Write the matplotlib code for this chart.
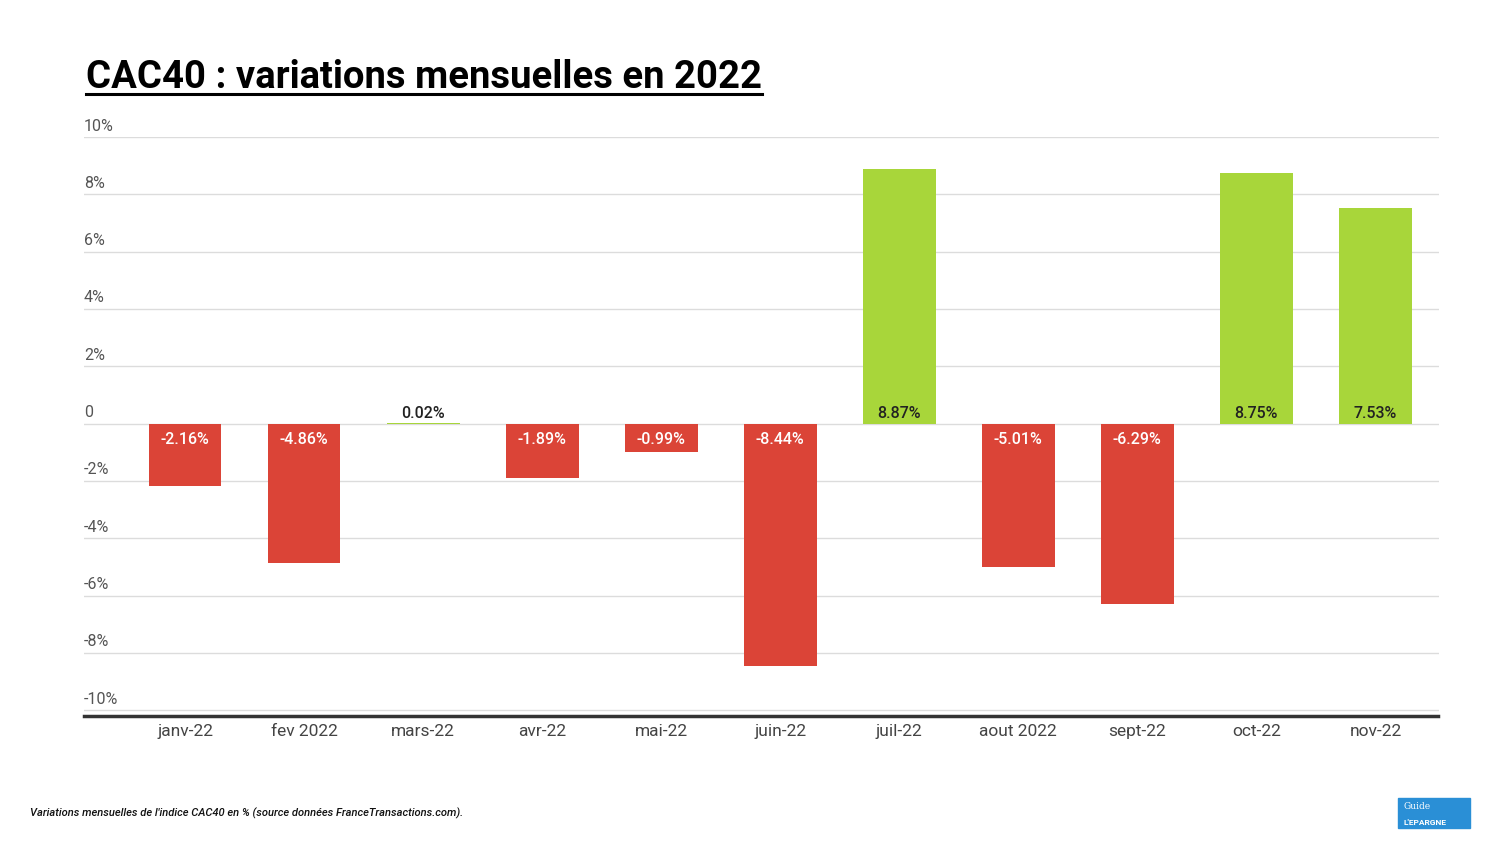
import matplotlib.pyplot as plt
import matplotlib.transforms as mtransforms
from matplotlib.patches import Rectangle
from matplotlib.lines import Line2D

plt.rcParams['font.family'] = ['Roboto', 'DejaVu Sans']

# données
months = ['janv-22', 'fev 2022', 'mars-22', 'avr-22', 'mai-22', 'juin-22',
          'juil-22', 'aout 2022', 'sept-22', 'oct-22', 'nov-22']
variations = [-2.16, -4.86, 0.02, -1.89, -0.99, -8.44, 8.87, -5.01, -6.29, 8.75, 7.53]
y_ticks = [10, 8, 6, 4, 2, 0, -2, -4, -6, -8, -10]
y_tick_labels = ['10%', '8%', '6%', '4%', '2%', '0', '-2%', '-4%', '-6%', '-8%', '-10%']

RED = '#db4437'
GREEN = '#a8d63a'

fig = plt.figure(figsize=(15, 8.44), dpi=100)
ax = fig.add_axes([0.056, 0.1517, 0.903, 0.686])

x = list(range(len(months)))
colors = [GREEN if v >= 0 else RED for v in variations]
ax.bar(x, variations, width=0.61, color=colors, zorder=3)

ax.set_xlim(-0.85, 10.53)
ax.set_ylim(-10.2, 10)

# grille
ax.set_yticks(y_ticks)
ax.yaxis.grid(True, color='#dcdcdc', linewidth=1, zorder=0)
ax.tick_params(axis='y', length=0, labelleft=False)
for sp in ['top', 'right', 'left']:
    ax.spines[sp].set_visible(False)
ax.spines['bottom'].set_color('#333333')
ax.spines['bottom'].set_linewidth(2.5)

# étiquettes de l'axe y au-dessus des lignes
trans = mtransforms.blended_transform_factory(ax.transAxes, ax.transData)
for val, lab in zip(y_ticks, y_tick_labels):
    ax.annotate(lab, xy=(0, val), xycoords=trans, xytext=(0, 2.5),
                textcoords='offset points', ha='left', va='bottom',
                fontsize=11.5, color='#555555')

ax.set_xticks(x)
ax.set_xticklabels(months, fontsize=12.5, color='#444444')
ax.tick_params(axis='x', length=0, pad=6)

# étiquettes des barres
for xi, v in zip(x, variations):
    lab = f'{v:.2f}%'
    if v < 0:
        ax.annotate(lab, xy=(xi, 0), xytext=(0, -6), textcoords='offset points',
                    ha='center', va='top', fontsize=11.5, fontweight='medium',
                    color='white', zorder=5)
    else:
        ax.annotate(lab, xy=(xi, 0), xytext=(0, 2), textcoords='offset points',
                    ha='center', va='bottom', fontsize=11.5, fontweight='medium',
                    color='#222222', zorder=5)

# titre souligné
title = fig.text(0.0575, 0.8955, 'CAC40 : variations mensuelles en 2022',
                 fontsize=27.5, fontweight='bold', color='black', ha='left', va='baseline')
fig.canvas.draw()
bb = title.get_window_extent().transformed(fig.transFigure.inverted())
fig.add_artist(Line2D([bb.x0, bb.x1], [0.889, 0.889], color='black', linewidth=2.2,
                      transform=fig.transFigure))

# note de bas de page
fig.text(0.02, 0.0365, "Variations mensuelles de l'indice CAC40 en % (source données FranceTransactions.com).",
         fontsize=8, style='italic', fontweight='medium', color='#111111', ha='left', va='center')

# logo
fig.add_artist(Rectangle((0.932, 0.019), 0.048, 0.035, transform=fig.transFigure,
                         color='#2a8fd6', zorder=5))
fig.text(0.9355, 0.044, 'Guide', fontsize=6.5, color='white', family='DejaVu Serif',
         ha='left', va='center', zorder=6)
fig.text(0.9355, 0.026, "L'EPARGNE", fontsize=6, color='white', fontweight='bold',
         ha='left', va='center', zorder=6)

fig.savefig('out.png', dpi=100)
